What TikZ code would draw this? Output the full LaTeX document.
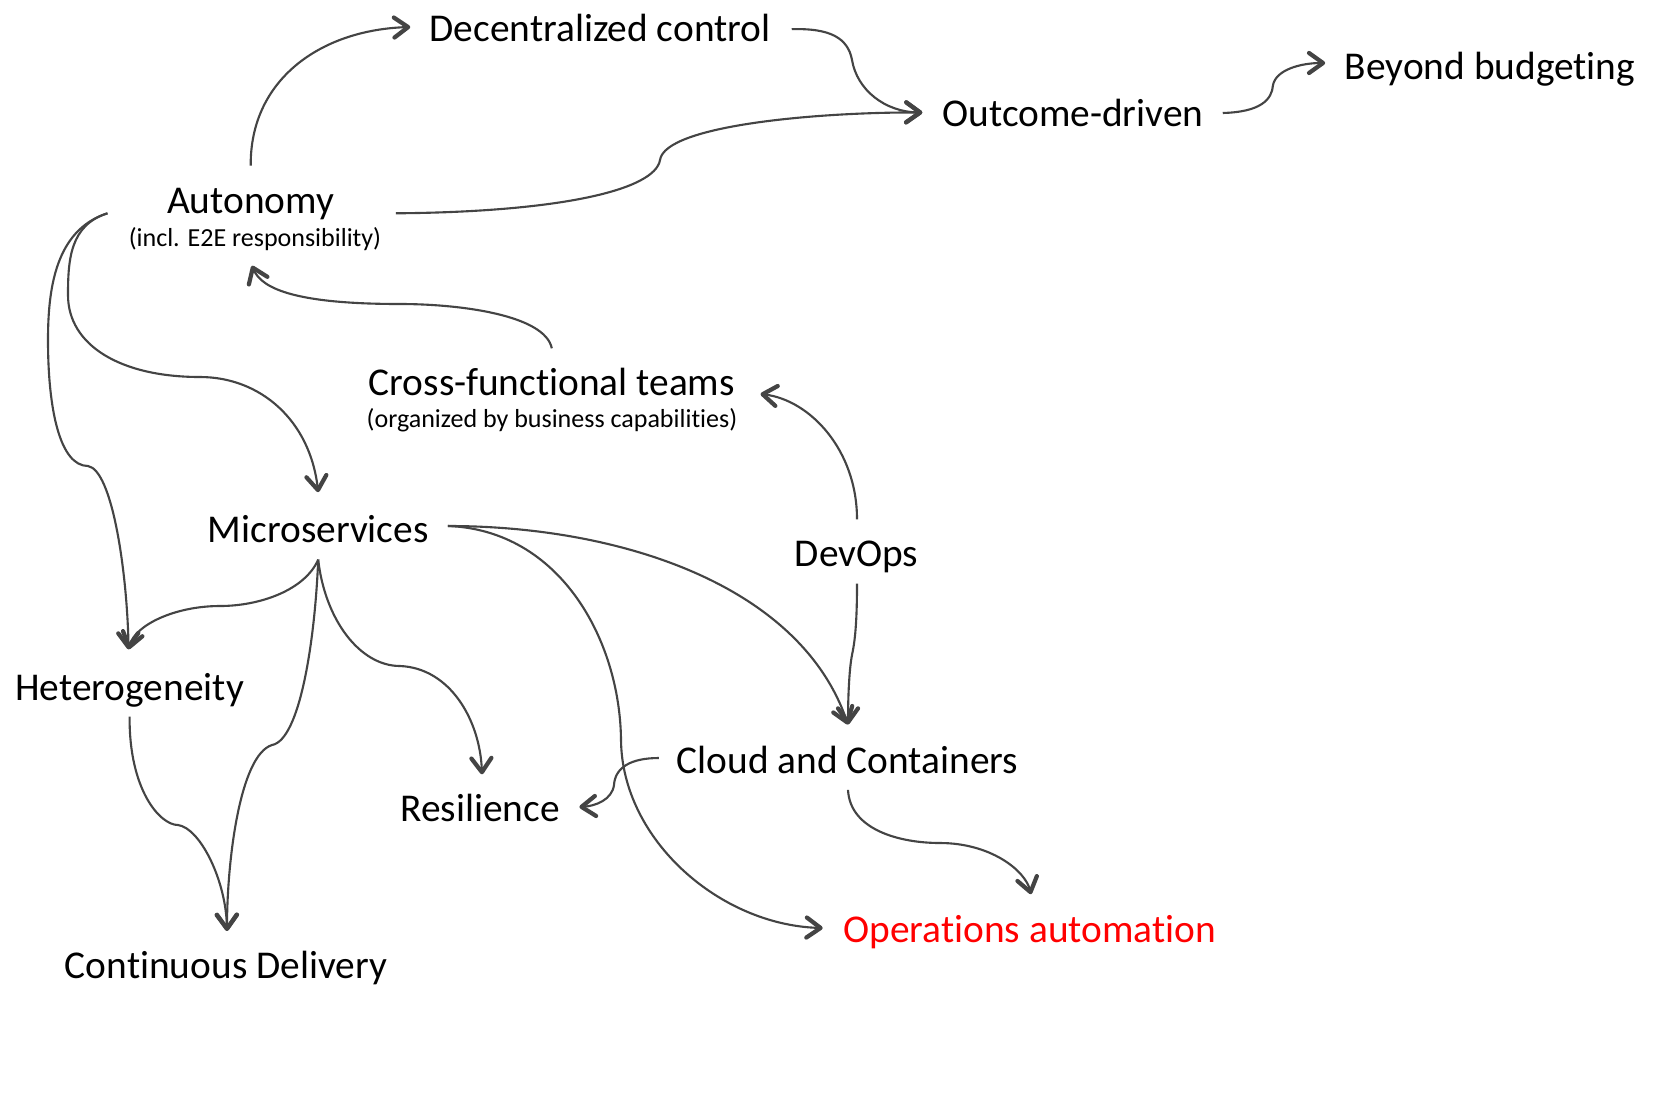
\documentclass[tikz,border=0pt]{standalone}
\usepackage{fontspec}
\setmainfont{Carlito}[Ligatures={NoCommon}]
\usetikzlibrary{arrows.meta,calc}
\definecolor{ln}{HTML}{444444}
\definecolor{opsred}{HTML}{FF0000}
\begin{document}
\begin{tikzpicture}[x=0.01cm,y=-0.01cm,
  lbl/.style={font=\fontsize{11.2}{13}\selectfont, inner sep=0pt, text height=0.27cm, text depth=0.08cm, anchor=base},
  sub/.style={font=\fontsize{7.4}{9}\selectfont, inner sep=0pt, text height=0.2cm, text depth=0.06cm, anchor=base},
  conn/.style={draw=ln, line width=0.6pt, -{Straight Barb[length=1.4mm,width=2mm,line width=1.2pt,round]}}]
\fill[white] (0,0) rectangle (1680,1118);
\useasboundingbox (0,0) rectangle (1680,1118);
% nodes
\node[lbl] (dec) at (600,41.7) {Decentralized control};
\node[lbl] (out) at (1073,126.7) {Outcome-driven};
\node[lbl] (bey) at (1490,79.3) {Beyond budgeting};
\node[lbl] (aut) at (250.7,213.3) {Autonomy};
\node[sub] (autsub) at (255,246) {(incl. E2E responsibility)};
\node[lbl] (cft) at (551.8,395) {Cross-functional teams};
\node[sub] (cftsub) at (552,427) {(organized by business capabilities)};
\node[lbl] (mic) at (318.2,542.9) {Microservices};
\node[lbl] (dev) at (856.5,566) {DevOps};
\node[lbl] (het) at (129.6,700) {Heterogeneity};
\node[lbl] (clo) at (847.5,773.2) {Cloud and Containers};
\node[lbl] (res) at (480,821.4) {Resilience};
\node[lbl,text=opsred] (ops) at (1029.7,942.9) {Operations automation};
\node[lbl] (cd) at (226,978.6) {Continuous Delivery};
% connectors
\draw[conn] ($(aut.north)+(0,-20)$) .. controls (250,80) and (320,30) .. ($(dec.west)+(-18.6,-5.2)$);
\draw[conn] ($(dec.east)+(20.6,-3)$) .. controls (830,28) and (848,38) .. (852,60) .. controls (857,90) and (885,112) .. ($(out.west)+(-19.6,-4.7)$);
\draw[conn] ($(aut.east)+(61,9.5)$) .. controls (560,212) and (655,190) .. (660,160) .. controls (665,125) and (820,112) .. ($(out.west)+(-19.6,-4.7)$);
\draw[conn] ($(out.east)+(18.6,-4.2)$) .. controls (1260,112) and (1272,100) .. (1273,85) .. controls (1276,70) and (1300,63) .. ($(bey.west)+(-19,-6.8)$);
\draw[conn] ($(cft.north)+(0,-19)$) .. controls (545,315) and (460,304) .. (400,304) .. controls (300,304) and (262,290) .. ($(autsub.south)+(-3,13)$);
\draw[conn] ($(aut.west)+(-59,9.5)$) .. controls (70,225) and (68,260) .. (68,295) .. controls (68,345) and (120,377) .. (200,377) .. controls (260,377) and (310,420) .. ($(mic.north)+(0,-23)$);
\draw[conn] ($(aut.west)+(-59,9.5)$) .. controls (55,230) and (48,290) .. (48,340) .. controls (48,410) and (60,466) .. (88,466) .. controls (112,470) and (127,570) .. ($(het.north)+(-1,-23)$);
\draw[conn] ($(mic.south)+(0,8)$) .. controls (305,590) and (260,606) .. (220,606) .. controls (175,606) and (135,625) .. ($(het.north)+(-1,-23)$);
\draw[conn] ($(mic.south)+(0,8)$) .. controls (315,640) and (300,740) .. (272,745) .. controls (240,755) and (227,860) .. ($(cd.north)+(1,-20)$);
\draw[conn] ($(het.south)+(0,8)$) .. controls (129,790) and (160,825) .. (178,825) .. controls (200,828) and (226,880) .. ($(cd.north)+(1,-20)$);
\draw[conn] ($(mic.south)+(0,8)$) .. controls (325,620) and (360,666) .. (400,666) .. controls (450,668) and (480,720) .. ($(res.north)+(2,-19.4)$);
\draw[conn] ($(mic.east)+(18.6,-7.4)$) .. controls (620,526) and (800,585) .. ($(clo.north)+(0.5,-21)$);
\draw[conn] ($(mic.east)+(18.6,-7.4)$) .. controls (560,530) and (620,640) .. (621,740) .. controls (622,840) and (720,925) .. ($(ops.west)+(-20,-5.4)$);
\draw[conn] ($(dev.north)+(0.5,-19)$) .. controls (857,450) and (810,400) .. ($(cft.east)+(25,8.5)$);
\draw[conn] ($(dev.south)+(0.5,9)$) .. controls (857,630) and (854,645) .. (852,655) .. controls (849,670) and (848,700) .. ($(clo.north)+(0.5,-21)$);
\draw[conn] ($(clo.west)+(-17,-5.7)$) .. controls (630,758) and (615,768) .. (614,785) .. controls (612,800) and (595,806) .. ($(res.east)+(19,-4.9)$);
\draw[conn] ($(clo.south)+(0.5,8)$) .. controls (850,830) and (900,843) .. (940,843) .. controls (990,843) and (1025,870) .. ($(ops.north)+(1.3,-21)$);
\end{tikzpicture}
\end{document}
